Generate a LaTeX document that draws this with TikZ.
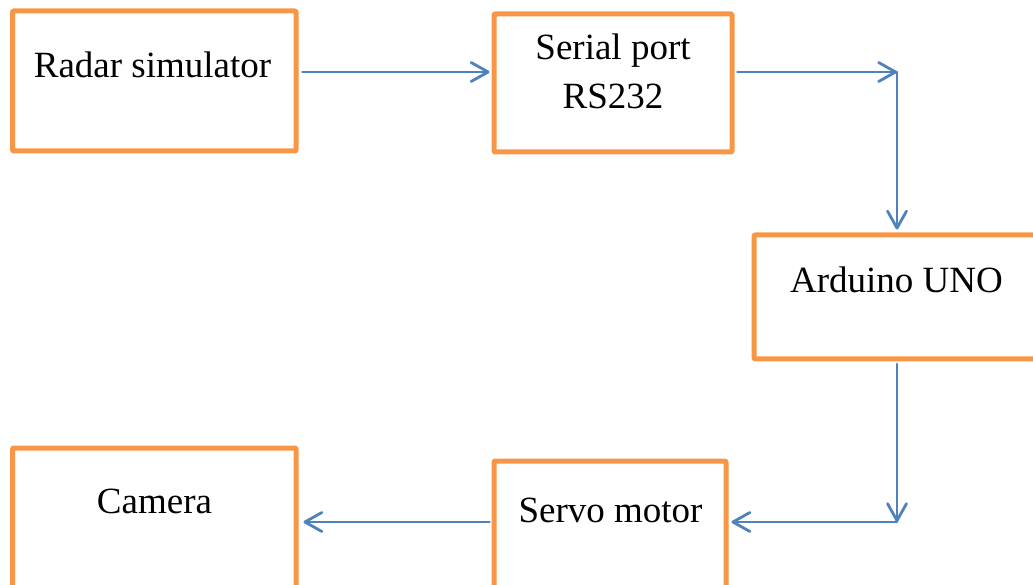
\documentclass[tikz,border=0pt]{standalone}
\usepackage{fontspec}
\setmainfont{Liberation Serif}
\usetikzlibrary{arrows.meta,calc}
\definecolor{boxorange}{HTML}{F79646}
\definecolor{linkblue}{HTML}{4F81BD}
\begin{document}
\begin{tikzpicture}[x=1pt,y=1pt,line cap=round,line join=round,
  blk/.style={draw=boxorange,line width=5pt,rounded corners=1pt,inner sep=0pt},
  lbl/.style={anchor=base,inner sep=0pt,align=center,font=\fontsize{37}{49}\selectfont},
  conn/.style={draw=linkblue,line width=2.8pt,-{Straight Barb[round,length=17pt,width=19pt]}}]
  \useasboundingbox (0,0) rectangle (1033,584);
  \clip (0,0) rectangle (1033,584);
  \node[blk,minimum width=283.5pt,minimum height=140pt] (radar) at (154.25,503) {};
  \node[blk,minimum width=238pt,minimum height=138pt] (serial) at (613,501) {};
  \node[blk,minimum width=286pt,minimum height=124pt] (arduino) at (897,287) {};
  \node[blk,minimum width=232pt,minimum height=138pt] (servo) at (610,54) {};
  \node[blk,minimum width=283.5pt,minimum height=148pt] (camera) at (154.25,62) {};
  \node[lbl] (radarT) at (152.5,506) {Radar simulator};
  \node[lbl] (serialT) at (613,475) {Serial port\\RS232};
  \node[lbl] (arduinoT) at (896.5,291) {Arduino UNO};
  \node[lbl] (servoT) at (610.5,62) {Servo motor};
  \node[lbl] (cameraT) at (154.5,71) {Camera};
  \coordinate (serialOut) at ($(serial.east)+(3,11)$);
  \coordinate (turnA) at (arduino.north |- serialOut);
  \coordinate (servoIn) at ($(servo.east)+(3,8)$);
  \coordinate (turnB) at (arduino.south |- servoIn);
  \draw[conn] ($(radar.east)+(4,9)$) -- ($(serial.west)+(-2,11)$);
  \draw[conn] (serialOut) -- (turnA);
  \draw[conn] (turnA) -- ($(arduino.north)+(0,3)$);
  \draw[conn] ($(arduino.south)+(0,-2.5)$) -- (turnB);
  \draw[conn] (turnB) -- (servoIn);
  \draw[conn] ($(servo.west)+(-2,8)$) -- ($(camera.east)+(5,0)$);
\end{tikzpicture}
\end{document}
